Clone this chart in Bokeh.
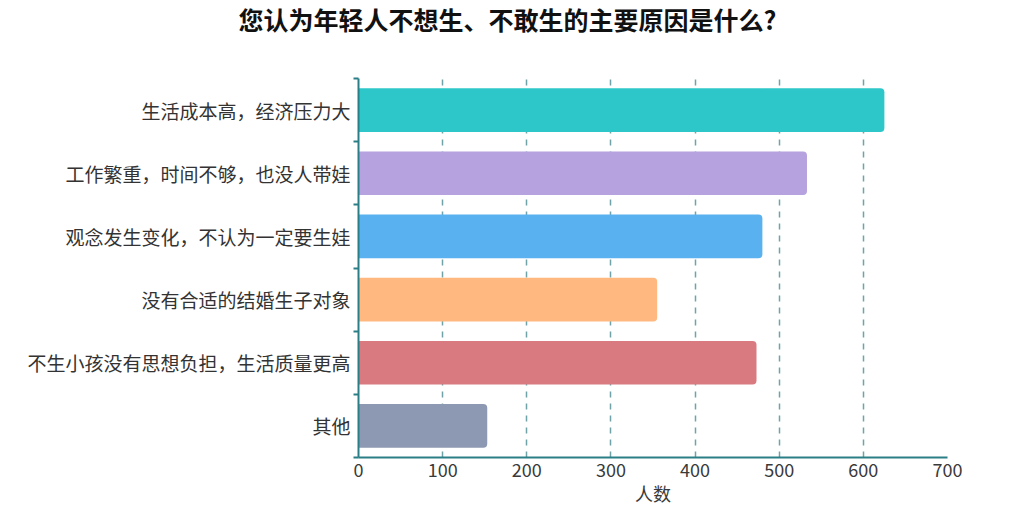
from bokeh.plotting import figure
from bokeh.models import Range1d, FixedTicker, ColumnDataSource, Title
from bokeh.embed import file_html
from bokeh.resources import INLINE

title_text = "您认为年轻人不想生、不敢生的主要原因是什么?"
categories = [
    "生活成本高，经济压力大",
    "工作繁重，时间不够，也没人带娃",
    "观念发生变化，不认为一定要生娃",
    "没有合适的结婚生子对象",
    "不生小孩没有思想负担，生活质量更高",
    "其他",
]
values = [625, 533, 480, 355, 473, 153]
colors = ["#2ec7c9", "#b6a2de", "#5ab1ef", "#ffb980", "#d87a80", "#8d98b3"]
x_ticks = [0, 100, 200, 300, 400, 500, 600, 700]
x_label = "人数"

FONT = "Noto Sans CJK SC"
n = len(categories)
ypos = [n - i - 0.5 for i in range(n)]

p = figure(width=1010, height=515, output_backend="svg", toolbar_location=None,
           title=None,
           x_range=Range1d(0, 700), y_range=Range1d(0, n),
           min_border_left=358, min_border_right=63, min_border_top=77, min_border_bottom=58)
p.outline_line_color = None

# spacer (closest to the frame), then the visible title above it
spacer = Title(text=" ", text_font=FONT, text_font_size="24px", standoff=3)
p.add_layout(spacer, "above")
main_title = Title(text=title_text, align="left", offset=-120, vertical_align="top",
                   standoff=0, text_font=FONT, text_font_size="25px",
                   text_font_style="bold", text_color="#111111")
p.add_layout(main_title, "above")

src = ColumnDataSource(dict(y=ypos, right=values, color=colors))
p.hbar(y="y", right="right", left=0, height=0.69, color="color", line_color=None,
       border_radius=(0, 4, 4, 0), source=src)

# x axis
xa = p.xaxis[0]
xa.ticker = FixedTicker(ticks=x_ticks, minor_ticks=[])
xa.axis_line_color = "#2a7e85"
xa.axis_line_width = 2
xa.major_tick_line_color = None
xa.major_tick_out = 0
xa.major_tick_in = 0
xa.minor_tick_line_color = None
xa.major_label_text_font = FONT
xa.major_label_text_font_size = "18px"
xa.major_label_text_color = "#3a3a3a"
xa.major_label_standoff = 5
xa.axis_label = x_label
xa.axis_label_text_font = FONT
xa.axis_label_text_font_size = "18px"
xa.axis_label_text_font_style = "normal"
xa.axis_label_text_color = "#3a3a3a"
xa.axis_label_standoff = 0

# y axis
ya = p.yaxis[0]
ya.ticker = FixedTicker(ticks=ypos, minor_ticks=list(range(n + 1)))
ya.major_label_overrides = {y: c for y, c in zip(ypos, categories)}
ya.axis_line_color = "#2a7e85"
ya.axis_line_width = 2
ya.major_tick_line_color = None
ya.major_tick_out = 0
ya.major_tick_in = 0
ya.minor_tick_line_color = "#2a7e85"
ya.minor_tick_line_width = 2
ya.minor_tick_out = 5
ya.minor_tick_in = 0
ya.major_label_text_font = FONT
ya.major_label_text_font_size = "19px"
ya.major_label_text_color = "#333333"
ya.major_label_standoff = 3

p.ygrid.grid_line_color = None
p.xgrid.ticker = FixedTicker(ticks=x_ticks[1:])
p.xgrid.grid_line_color = "#6fa3a8"
p.xgrid.grid_line_width = 1.5
p.xgrid.grid_line_dash = "6 6"

open("out.html", "w").write(file_html(p, INLINE))
